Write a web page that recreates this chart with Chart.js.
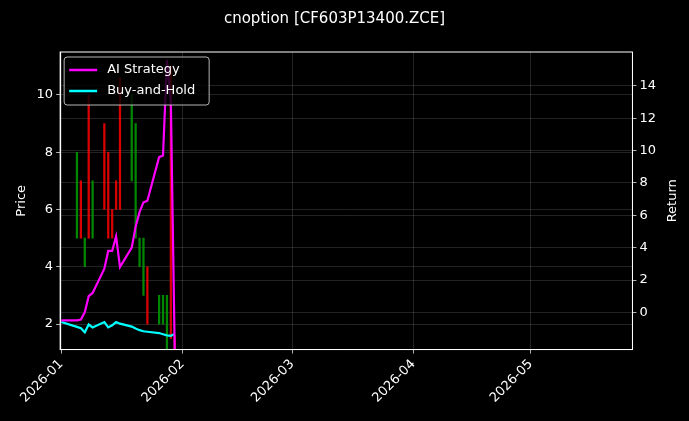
<!DOCTYPE html>
<html>
<head>
<meta charset="utf-8">
<script src="https://cdn.jsdelivr.net/npm/chart.js@4/dist/chart.umd.min.js"></script>
<style>
html, body { margin: 0; padding: 0; background: #000; }
#wrap { width: 689px; height: 421px; }
</style>
</head>
<body>
<div id="wrap"><canvas id="myChart" width="689" height="421"></canvas></div>
<script>
// days counted from 2026-01-01
const candleDays = [4, 5, 6, 7, 8, 11, 12, 13, 14, 15, 18, 19, 20, 21, 22, 25, 26, 27, 28, 29];
const candleOpen = [5, 7, 4, 10, 5, 9, 8, 6, 7, 10.6, 7, 5, 4, 3, 4, 2, 2, 1, 11, 1.6];
const candleClose = [8, 5, 5, 5, 7, 6, 5, 5, 6, 6, 10, 9, 5, 5, 2, 3, 3, 3, 1.5, 1.0];

const lineDays = [0, 4, 5, 6, 7, 8, 11, 12, 13, 14, 15, 18, 19, 20, 21, 22, 25, 26, 27, 28, 29];
const aiReturn = [-0.5, -0.5, -0.45, 0.0, 1.0, 1.2, 2.7, 3.8, 3.8, 4.7, 2.8, 4.0, 5.3, 6.2, 6.8, 6.9, 9.6, 9.7, 15.6, 13, -2.5];
const bhReturn = [-0.6, -0.9, -0.98, -1.23, -0.75, -0.93, -0.6, -0.93, -0.8, -0.6, -0.7, -0.88, -1.0, -1.1, -1.17, -1.2, -1.28, -1.35, -1.42, -1.45, -1.33];

const monthDays = [0, 31, 59, 90, 120];
const monthLabels = ['2026-01', '2026-02', '2026-03', '2026-04', '2026-05'];
const priceTicks = [2, 4, 6, 8, 10];
const returnTicks = [0, 2, 4, 6, 8, 10, 12, 14];

const candles = candleDays.map((d, i) => ({ x: d, y: [candleOpen[i], candleClose[i]] }));
const candleColors = candleDays.map((d, i) =>
    candleClose[i] >= candleOpen[i] ? 'rgba(0,150,0,0.9)' : 'rgba(255,0,0,0.85)');

const frameAndLegend = {
    id: 'frameAndLegend',
    afterDraw(chart) {
        const { ctx, chartArea: a } = chart;
        ctx.save();
        ctx.strokeStyle = '#fff';
        ctx.lineWidth = 1;
        ctx.strokeRect(a.left, a.top, a.right - a.left, a.bottom - a.top);
        // right axis title, reading bottom to top
        ctx.fillStyle = '#fff';
        ctx.font = '13px "DejaVu Sans"';
        ctx.textAlign = 'center';
        ctx.textBaseline = 'middle';
        ctx.translate(673, (a.top + a.bottom) / 2);
        ctx.rotate(-Math.PI / 2);
        ctx.fillText('Return', 0, 0);
        ctx.setTransform(1, 0, 0, 1, 0, 0);
        ctx.scale(chart.currentDevicePixelRatio, chart.currentDevicePixelRatio);
        // legend box
        const x = a.left + 4, y = a.top + 5, w = 145, h = 48;
        ctx.fillStyle = 'rgba(0,0,0,0.8)';
        ctx.strokeStyle = 'rgba(200,200,200,0.9)';
        ctx.beginPath();
        ctx.roundRect(x, y, w, h, 3);
        ctx.fill();
        ctx.stroke();
        const items = [['AI Strategy', '#ff00ff'], ['Buy-and-Hold', '#00ffff']];
        ctx.textAlign = 'left';
        items.forEach((it, i) => {
            const ly = y + 13 + i * 21;
            ctx.strokeStyle = it[1];
            ctx.lineWidth = 2.5;
            ctx.beginPath();
            ctx.moveTo(x + 5, ly);
            ctx.lineTo(x + 33, ly);
            ctx.stroke();
            ctx.fillStyle = '#fff';
            ctx.fillText(it[0], x + 43, ly);
        });
        ctx.restore();
    }
};

const gridStyle = {
    color: 'rgba(110,110,110,0.45)',
    lineWidth: 0.7,
    borderDash: [3, 3],
    tickColor: '#fff',
    tickLength: 4,
    tickBorderDash: []
};

const ctx = document.getElementById('myChart').getContext('2d');
new Chart(ctx, {
    data: {
        datasets: [{
            type: 'bar',
            label: 'candles',
            data: candles,
            backgroundColor: candleColors,
            barThickness: 1.6,
            yAxisID: 'y',
            order: 3
        }, {
            type: 'line',
            label: 'AI Strategy',
            data: lineDays.map((d, i) => ({ x: d, y: aiReturn[i] })),
            borderColor: '#ff00ff',
            borderWidth: 2.2,
            pointRadius: 0,
            yAxisID: 'y1',
            order: 1
        }, {
            type: 'line',
            label: 'Buy-and-Hold',
            data: lineDays.map((d, i) => ({ x: d, y: bhReturn[i] })),
            borderColor: '#00ffff',
            borderWidth: 2.2,
            pointRadius: 0,
            yAxisID: 'y1',
            order: 2
        }]
    },
    options: {
        responsive: false,
        animation: false,
        layout: { padding: { left: 10, right: 30, top: 8, bottom: 12 } },
        plugins: {
            legend: { display: false },
            tooltip: { enabled: false },
            title: {
                display: true,
                text: 'cnoption [CF603P13400.ZCE]',
                color: '#fff',
                font: { family: 'DejaVu Sans', size: 15, weight: 'normal' },
                padding: { top: 2, bottom: 24 }
            }
        },
        scales: {
            x: {
                type: 'linear',
                offset: false,
                min: -0.3,
                max: 146,
                grid: Object.assign({}, gridStyle, { offset: false }),
                border: { color: '#fff' },
                afterBuildTicks: (axis) => { axis.ticks = monthDays.map(v => ({ value: v })); },
                ticks: {
                    color: '#fff',
                    font: { family: 'DejaVu Sans', size: 13 },
                    minRotation: 45,
                    maxRotation: 45,
                    callback: (v) => monthLabels[monthDays.indexOf(v)]
                }
            },
            y: {
                position: 'left',
                min: 1.11,
                max: 11.5,
                grid: gridStyle,
                border: { color: '#fff' },
                afterBuildTicks: (axis) => { axis.ticks = priceTicks.map(v => ({ value: v })); },
                ticks: { color: '#fff', font: { family: 'DejaVu Sans', size: 13 } },
                title: { display: true, text: 'Price', color: '#fff', font: { family: 'DejaVu Sans', size: 13 } }
            },
            y1: {
                position: 'right',
                min: -2.3,
                max: 16.1,
                grid: gridStyle,
                border: { color: '#fff' },
                afterBuildTicks: (axis) => { axis.ticks = returnTicks.map(v => ({ value: v })); },
                ticks: { color: '#fff', font: { family: 'DejaVu Sans', size: 13 } }
            }
        }
    },
    plugins: [frameAndLegend]
});
</script>
</body>
</html>
